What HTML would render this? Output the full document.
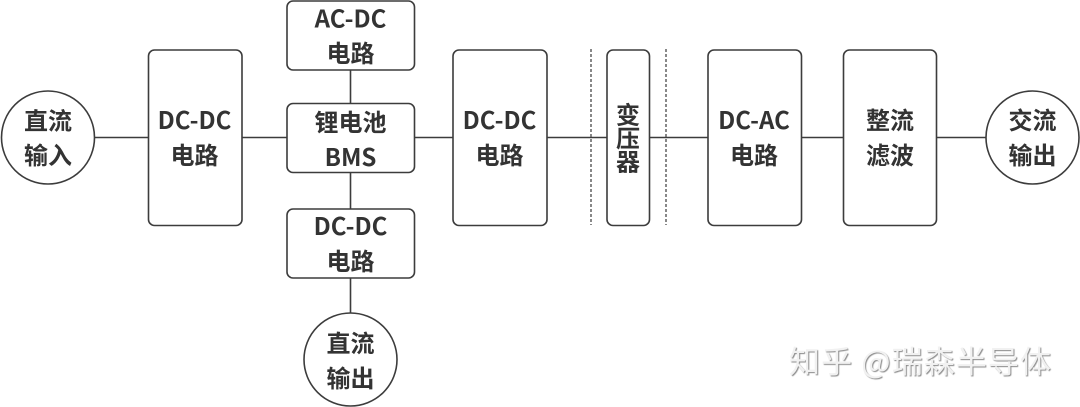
<!DOCTYPE html>
<html lang="zh">
<head>
<meta charset="utf-8">
<style>
html,body{margin:0;padding:0;background:#fff;}
svg{display:block;}
text{font-family:"Noto Sans CJK SC","Liberation Sans",sans-serif;font-weight:700;font-size:24px;fill:#333;text-anchor:middle;}
.s{fill:#fff;stroke:#3c3c3c;stroke-width:1.6;}
.l{stroke:#3c3c3c;stroke-width:1.6;fill:none;}
.d{stroke:#555;stroke-width:1.4;stroke-dasharray:3 2;fill:none;}
.w{font-size:31px;font-weight:400;fill:#f1f1f1;text-anchor:start;}
</style>
</head>
<body>
<svg width="1080" height="407" viewBox="0 0 1080 407" xmlns="http://www.w3.org/2000/svg">
<line class="l" x1="90" y1="137.5" x2="1000" y2="137.5"/>
<line class="l" x1="350.5" y1="60" x2="350.5" y2="320"/>
<line class="d" x1="591" y1="49" x2="591" y2="225"/>
<line class="d" x1="666" y1="49" x2="666" y2="225"/>

<circle class="s" cx="48" cy="137.5" r="46.5"/>
<rect class="s" x="148.5" y="50" width="93.5" height="175.5" rx="6"/>
<rect class="s" x="287" y="1" width="127.5" height="69" rx="6"/>
<rect class="s" x="287" y="103.5" width="127.5" height="69" rx="6"/>
<rect class="s" x="287" y="209" width="127.5" height="69" rx="6"/>
<circle class="s" cx="350.5" cy="359.5" r="46.5"/>
<rect class="s" x="453" y="50" width="94" height="175.5" rx="6"/>
<rect class="s" x="607" y="50" width="42.5" height="175.5" rx="6"/>
<rect class="s" x="708" y="50" width="93.5" height="175.5" rx="6"/>
<rect class="s" x="843.5" y="50" width="93" height="175.5" rx="6"/>
<circle class="s" cx="1032.5" cy="137.5" r="46.5"/>

<text x="48" y="129.5">直流</text>
<text x="48" y="164">输入</text>
<text x="194.5" y="129">DC-DC</text>
<text x="194.5" y="164">电路</text>
<text x="350.5" y="27.5">AC-DC</text>
<text x="350.5" y="62">电路</text>
<text x="350.5" y="131">锂电池</text>
<text x="350.5" y="166">BMS</text>
<text x="350.5" y="235">DC-DC</text>
<text x="350.5" y="270">电路</text>
<text x="350.5" y="352">直流</text>
<text x="350.5" y="387">输出</text>
<text x="499.5" y="129">DC-DC</text>
<text x="499.5" y="164">电路</text>
<text x="628" y="123.5">变</text>
<text x="628" y="147">压</text>
<text x="628" y="170.5">器</text>
<text x="754" y="129">DC-AC</text>
<text x="754" y="164">电路</text>
<text x="890" y="129">整流</text>
<text x="890" y="164">滤波</text>
<text x="1032.5" y="129">交流</text>
<text x="1032.5" y="164">输出</text>

<text class="w" x="789" y="373" style="text-shadow:1px 1px 1px #8a8a8a,-1px -1px 0 #fff;" textLength="262" lengthAdjust="spacing">知乎 @瑞森半导体</text>
</svg>
</body>
</html>
